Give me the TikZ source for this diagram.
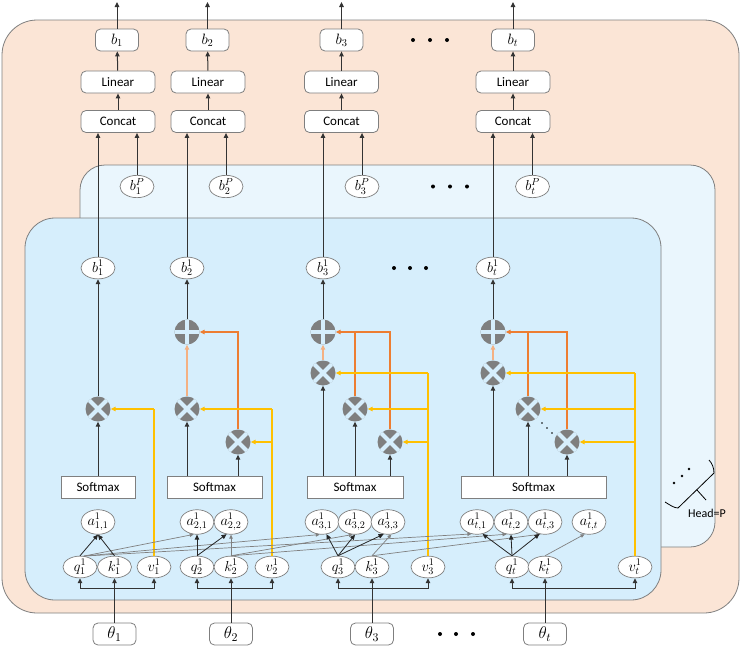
\RequirePackage{fix-cm}
\documentclass[tikz,border=0pt]{standalone}
\usepackage{fontspec}
\setmainfont{Carlito}
\usetikzlibrary{arrows.meta,calc,shapes.geometric}
\definecolor{peach}{HTML}{FBE5D6}
\definecolor{backblue}{HTML}{EAF6FD}
\definecolor{frontblue}{HTML}{D6EEFC}
\definecolor{bordergray}{HTML}{7F7F7F}
\definecolor{opgray}{HTML}{7F7F7F}
\definecolor{myyellow}{HTML}{FFC000}
\definecolor{myorange}{HTML}{ED7D31}
\definecolor{lightorange}{HTML}{F4B183}
\begin{document}
\begin{tikzpicture}[x=1pt,y=-1pt,
  >={Triangle[length=5pt,width=4.5pt]},
  panel/.style={draw=bordergray, line width=0.8pt},
  rbox/.style={draw=bordergray, fill=white, rounded corners=5pt, minimum height=22pt, inner sep=0pt, line width=0.8pt},
  bbox/.style={rbox, minimum width=43pt, font=\fontsize{15}{16}\selectfont},
  thbox/.style={rbox, minimum width=43pt, font=\fontsize{17}{18}\selectfont},
  lbox/.style={rbox, minimum width=74pt, font=\fontsize{13}{14}\selectfont},
  smax/.style={draw=bordergray, fill=white, minimum height=22pt, inner sep=0pt, line width=0.8pt, font=\fontsize{13}{14}\selectfont},
  ell/.style={ellipse, draw=bordergray, fill=white, minimum width=34pt, minimum height=20pt, inner sep=0pt, line width=0.7pt, font=\fontsize{14.5}{15}\selectfont},
  mul/.style={circle, fill=opgray, minimum size=25pt, inner sep=0pt, path picture={
    \draw[frontblue, line width=4pt]
      ([shift={(-15,-15)}]path picture bounding box.center) -- ([shift={(15,15)}]path picture bounding box.center)
      ([shift={(-15,15)}]path picture bounding box.center) -- ([shift={(15,-15)}]path picture bounding box.center);}},
  pls/.style={circle, fill=opgray, minimum size=25pt, inner sep=0pt, path picture={
    \draw[frontblue, line width=4pt]
      ([shift={(-15,0)}]path picture bounding box.center) -- ([shift={(15,0)}]path picture bounding box.center)
      ([shift={(0,15)}]path picture bounding box.center) -- ([shift={(0,-15)}]path picture bounding box.center);}},
  blk/.style={draw=black!80, line width=1pt, ->},
  qa/.style={draw=black!85, line width=0.8pt, ->},
  gry/.style={draw=black!50, line width=0.7pt, -{Triangle[length=4pt,width=3.5pt]}},
  yl/.style={draw=myyellow, line width=1.4pt, -{Triangle[length=5pt,width=4.5pt,fill=myyellow]}},
  ylline/.style={draw=myyellow, line width=1.4pt},
  orn/.style={draw=myorange, line width=1.4pt, -{Triangle[length=5pt,width=4.5pt,fill=myorange]}},
  ornline/.style={draw=myorange, line width=1.4pt},
  lorn/.style={draw=lightorange, line width=1.6pt, -{Triangle[length=5pt,width=4.5pt,fill=myorange]}},
]
\useasboundingbox (0,0) rectangle (741,646);
% panels
\draw[panel, fill=peach, rounded corners=35pt] (2,20) rectangle (739,613);
\draw[panel, fill=backblue, rounded corners=25pt] (80,165) rectangle (715,547);
\draw[panel, fill=frontblue, rounded corners=30pt] (25,218) rectangle (661,600);

% top outputs
\node[bbox] (b1) at (117,40) {$b_1$};
\node[bbox] (b2) at (207.5,40) {$b_2$};
\node[bbox] (b3) at (341.5,40) {$b_3$};
\node[bbox] (bt) at (513,40) {$b_t$};
\coordinate (o1) at (117,2);
\coordinate (o2) at (207.5,2);
\coordinate (o3) at (341.5,2);
\coordinate (ot) at (513,2);
\node[lbox] (L1) at (118,82) {Linear};
\node[lbox] (L2) at (208,82) {Linear};
\node[lbox] (L3) at (341.5,82) {Linear};
\node[lbox] (Lt) at (513,82) {Linear};
\node[lbox] (C1) at (118,121.5) {Concat};
\node[lbox] (C2) at (208,121.5) {Concat};
\node[lbox] (C3) at (341.5,121.5) {Concat};
\node[lbox] (Ct) at (513,121.5) {Concat};
\foreach \i in {1,2,3,t}{
  \draw[blk] (b\i.north) -- (o\i);
  \draw[blk] (L\i) -- (b\i);
  \draw[blk] (C\i) -- (L\i);
}
\foreach \x in {413,430,447} \fill (\x,40) circle (2pt);

% head P outputs
\node[ell] (bp1) at (137,186.5) {$b_1^P$};
\node[ell] (bp2) at (226,186.5) {$b_2^P$};
\node[ell] (bp3) at (362,186.5) {$b_3^P$};
\node[ell] (bpt) at (532.5,186.5) {$b_t^P$};
\foreach \x in {433,450,467} \fill (\x,186.5) circle (2pt);
\foreach \i in {1,2,3,t} \draw[blk] (bp\i) -- (bp\i |- C\i.south);

% head 1 outputs
\node[ell] (h1) at (98,268) {$b_1^1$};
\node[ell] (h2) at (187,268) {$b_2^1$};
\node[ell] (h3) at (323,268) {$b_3^1$};
\node[ell] (ht) at (493,268) {$b_t^1$};
\foreach \x in {394,410,426} \fill (\x,268) circle (2pt);
\foreach \i in {1,2,3,t} \draw[blk] (h\i) -- (h\i |- C\i.south);

% operators
\node[mul] (m11) at (98,409) {};
\node[pls] (p2) at (187,332) {};
\node[mul] (m21) at (187,409) {};
\node[mul] (m22) at (238,442) {};
\node[pls] (p3) at (323,332) {};
\node[mul] (m31) at (323,373) {};
\node[mul] (m32) at (355,409) {};
\node[mul] (m33) at (390,442) {};
\node[pls] (pt) at (493,332) {};
\node[mul] (mt1) at (493,373) {};
\node[mul] (mt2) at (528,409) {};
\node[mul] (mt3) at (567,442) {};
\foreach \p in {(542,423),(547,428),(552,433)} \fill \p circle (0.9pt);

% softmax
\node[smax, minimum width=74pt] (sm1) at (98,487) {Softmax};
\node[smax, minimum width=95pt] (sm2) at (214.5,487) {Softmax};
\node[smax, minimum width=96pt] (sm3) at (355,487) {Softmax};
\node[smax, minimum width=145pt] (smt) at (533.5,487) {Softmax};

\draw[blk] (sm1.north -| m11) -- (m11);
\draw[blk] (m11) -- (h1);
\draw[blk] (sm2.north -| m21) -- (m21);
\draw[blk] (sm2.north -| m22) -- (m22);
\draw[blk] (sm3.north -| m31) -- (m31);
\draw[blk] (sm3.north -| m32) -- (m32);
\draw[blk] (sm3.north -| m33) -- (m33);
\draw[blk] (smt.north -| mt1) -- (mt1);
\draw[blk] (smt.north -| mt2) -- (mt2);
\draw[blk] (smt.north -| mt3) -- (mt3);
\draw[blk] (p2) -- (h2);
\draw[blk] (p3) -- (h3);
\draw[blk] (pt) -- (ht);

\draw[lorn] (m21) -- (p2);
\draw[lorn] (m31) -- (p3);
\draw[lorn] (mt1) -- (pt);
\draw[orn] (m22.north) |- (p2.east);
\draw[orn] (m33.north) |- (p3.east);
\draw[ornline] (m32.north) -- (m32 |- p3);
\draw[orn] (mt3.north) |- (pt.east);
\draw[ornline] (mt2.north) -- (mt2 |- pt);

% attention scores
\node[ell] (a11) at (98,522) {$a^1_{1,1}$};
\node[ell] (a21) at (197,522) {$a^1_{2,1}$};
\node[ell] (a22) at (231,522) {$a^1_{2,2}$};
\node[ell] (a31) at (322,522) {$a^1_{3,1}$};
\node[ell] (a32) at (355,522) {$a^1_{3,2}$};
\node[ell] (a33) at (388,522) {$a^1_{3,3}$};
\node[ell] (at1) at (477,522) {$a^1_{t,1}$};
\node[ell] (at2) at (511,522) {$a^1_{t,2}$};
\node[ell] (at3) at (545,522) {$a^1_{t,3}$};
\node[ell] (att) at (589,522) {$a^1_{t,t}$};

% q k v
\node[ell] (q1) at (80,567) {$q^1_1$};
\node[ell] (k1) at (114.5,567) {$k^1_1$};
\node[ell] (v1) at (154,567) {$v^1_1$};
\node[ell] (q2) at (197,567) {$q^1_2$};
\node[ell] (k2) at (231,567) {$k^1_2$};
\node[ell] (v2) at (272,567) {$v^1_2$};
\node[ell] (q3) at (338,567) {$q^1_3$};
\node[ell] (k3) at (372,567) {$k^1_3$};
\node[ell] (v3) at (428,567) {$v^1_3$};
\node[ell] (qt) at (512,567) {$q^1_t$};
\node[ell] (kt) at (545,567) {$k^1_t$};
\node[ell] (vt) at (635,567) {$v^1_t$};

% v to multipliers
\draw[ylline] (v1.north) -- (v1 |- m11);
\draw[yl] (v1 |- m11) -- (m11.east);
\draw[ylline] (v2.north) -- (v2 |- m21);
\draw[yl] (v2 |- m21) -- (m21.east);
\draw[yl] (v2 |- m22) -- (m22.east);
\draw[ylline] (v3.north) -- (v3 |- m31);
\draw[yl] (v3 |- m31) -- (m31.east);
\draw[yl] (v3 |- m32) -- (m32.east);
\draw[yl] (v3 |- m33) -- (m33.east);
\draw[ylline] (vt.north) -- (vt |- mt1);
\draw[yl] (vt |- mt1) -- (mt1.east);
\draw[yl] (vt |- mt2) -- (mt2.east);
\draw[yl] (vt |- mt3) -- (mt3.east);

% q,k to a
\coordinate (k1s) at (q1.70);
\draw[gry] (k1s) -- (a21.255);
\draw[gry] (k1s) -- (a31.260);
\draw[gry] (k1s) -- (at1.245);
\draw[gry] (k2.north) -- (a22.south);
\draw[gry] (k2.north) -- (a32.260);
\draw[gry] (k2.north) -- (at2.250);
\draw[gry] (k3.north) -- (a33.285);
\draw[gry] (k3.north) -- (at3.250);
\draw[gry] (kt.north) -- (att.250);
\draw[qa] (q1.north) -- (a11.south);
\draw[qa] (k1.north) -- (a11.south);
\draw[qa] (q2.north) -- (a21.south);
\draw[qa] (q2.north) -- (a22.250);
\draw[qa] (q3.north) -- (a31.290);
\draw[qa] (q3.north) -- (a32.south);
\draw[qa] (q3.north) -- (a33.250);
\draw[qa] (qt.north) -- (at1.295);
\draw[qa] (qt.north) -- (at2.south);
\draw[qa] (qt.north) -- (at3.245);

% inputs
\node[thbox] (th1) at (114.5,634) {$\theta_1$};
\node[thbox] (th2) at (231,634) {$\theta_2$};
\node[thbox] (th3) at (372,634) {$\theta_3$};
\node[thbox] (tht) at (545,634) {$\theta_t$};
\foreach \x in {440,456,473} \fill (\x,634) circle (2pt);
\foreach \i in {1,2,3,t}{
  \draw[blk] (th\i) -- (k\i);
  \draw[blk] (th\i.north) ++(0,-34) -| (q\i.south);
  \draw[blk] (th\i.north) ++(0,-34) -| (v\i.south);
}

% Head=P annotation
\fill (674,483) circle (1.3pt);
\fill (682,476) circle (1.3pt);
\fill (689,469) circle (1.3pt);
\draw[line width=0.8pt] (665,502) .. controls (670,505) and (674,508) .. (678,508) -- (714,473) .. controls (714,468) and (712,463) .. (709,460);
\draw[line width=0.8pt] (697,490) -- (706,500);
\node[font=\fontsize{12}{13}\selectfont, inner sep=0pt] (headp) at (707,513) {Head=P};
\end{tikzpicture}
\end{document}
